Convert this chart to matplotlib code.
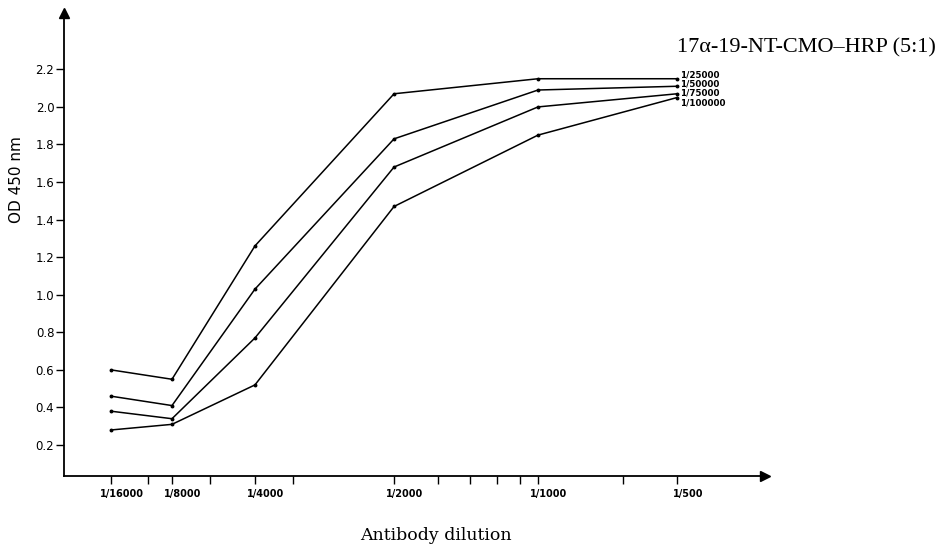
import matplotlib
matplotlib.use("Agg")
import matplotlib.pyplot as plt
import matplotlib.transforms as mtransforms

# ---- data ----
dilutions = ["1/16000", "1/8000", "1/4000", "1/2000", "1/1000", "1/500"]
x_pos = [0.0, 1.0, 2.36, 4.64, 7.0, 9.28]          # irregular positions as drawn
minor_pos = [0.61, 1.62, 2.98, 5.36, 5.89, 6.33, 6.70, 8.39]
series_names = ["1/25000", "1/50000", "1/75000", "1/100000"]
od_25000 = [0.60, 0.55, 1.26, 2.07, 2.15, 2.15]
od_50000 = [0.46, 0.41, 1.03, 1.83, 2.09, 2.11]
od_75000 = [0.38, 0.34, 0.77, 1.68, 2.00, 2.07]
od_100000 = [0.28, 0.31, 0.52, 1.47, 1.85, 2.05]
y_ticks = [0.2, 0.4, 0.6, 0.8, 1.0, 1.2, 1.4, 1.6, 1.8, 2.0, 2.2]
title = "17α-19-NT-CMO–HRP (5:1)"

W, H = 943, 545
fig = plt.figure(figsize=(W / 100, H / 100), dpi=100)
ax = fig.add_axes([64 / W, (H - 476) / H, (765 - 64) / W, (476 - 13) / H])

series = [od_25000, od_50000, od_75000, od_100000]
label_dy = [3.0, 1.5, 0.6, -3.6]  # points
for name, vals, dy in zip(series_names, series, label_dy):
    ax.plot(x_pos, vals, color="black", lw=1.1, marker="o", ms=1.8,
            solid_joinstyle="miter")
    ax.annotate(name, (x_pos[-1], vals[-1]), xytext=(2, dy),
                textcoords="offset points", ha="left", va="center",
                fontsize=6.3, fontweight="bold",
                family=["Liberation Sans Narrow", "DejaVu Sans"])

ax.set_xlim(-0.77, 10.72)
ax.set_ylim(0.035, 2.5)

for s in ["top", "right"]:
    ax.spines[s].set_visible(False)
ax.spines["left"].set_linewidth(1.3)
ax.spines["bottom"].set_linewidth(1.3)

# arrows
ax.plot(1, 0, ">k", ms=7, transform=ax.transAxes, clip_on=False)
ax.plot(0, 1, "^k", ms=7, transform=ax.transAxes, clip_on=False)

ax.set_yticks(y_ticks)
ax.set_yticklabels([f"{v:.1f}" for v in y_ticks])
ax.tick_params(axis="y", direction="out", length=6, width=1.0, pad=1,
               labelsize=8.5)
for lab in ax.get_yticklabels():
    lab.set_family(["Liberation Sans Narrow", "DejaVu Sans"])

ax.set_xticks(x_pos)
ax.set_xticklabels(dilutions)
ax.set_xticks(minor_pos, minor=True)
ax.tick_params(axis="x", which="major", direction="out", length=6, width=1.0,
               pad=3, labelsize=7)
ax.tick_params(axis="x", which="minor", direction="out", length=6, width=1.0)
offset = mtransforms.ScaledTranslation(11 / 100, 0, fig.dpi_scale_trans)
for lab in ax.get_xticklabels():
    lab.set_fontweight("bold")
    lab.set_family(["Liberation Sans Narrow", "DejaVu Sans"])
    lab.set_transform(lab.get_transform() + offset)

ax.set_ylabel("OD 450 nm", fontsize=11, family="DejaVu Sans")
ax.yaxis.set_label_coords(-(64 - 24) / (765 - 64), (476 - 180) / (476 - 13))

fig.text(436 / W, 1 - 535 / H, "Antibody dilution", ha="center", va="center",
         fontsize=12.5, family="DejaVu Serif")
fig.text(677 / W, 1 - 48 / H, title, ha="left", va="center", fontsize=16,
         family="Liberation Serif")

fig.savefig("out.png", dpi=100)
